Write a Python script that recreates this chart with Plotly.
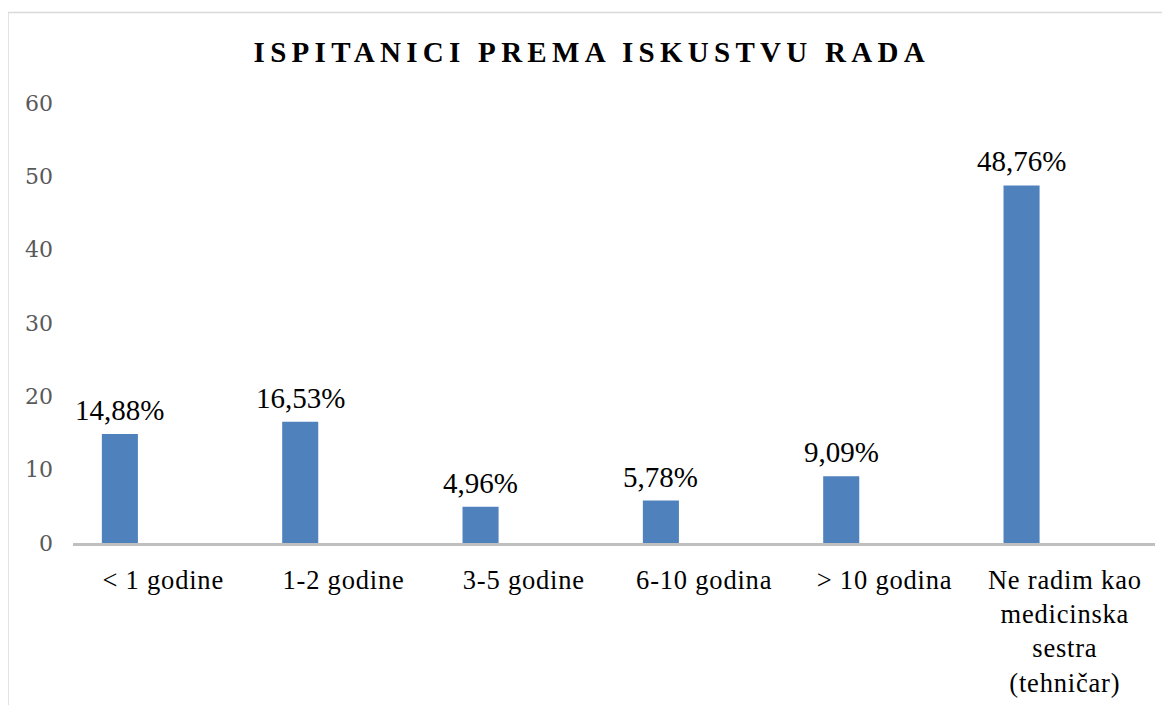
import plotly.graph_objects as go

categories = ["< 1 godine", "1-2 godine", "3-5 godine", "6-10 godina", "> 10 godina",
              "Ne radim kao<br>medicinska<br>sestra<br>(tehničar)"]
values = [14.88, 16.53, 4.96, 5.78, 9.09, 48.76]
labels = [f"{v:.2f}".replace(".", ",") + "%" for v in values]
y_ticks = [0, 10, 20, 30, 40, 50, 60]

BAR_WIDTH = 0.2
BAR_OFFSET = -0.34
CAT_PX = 1082 / 6

tick_text = ["<br>".join(f'<span style="letter-spacing:0.8px">{part}</span>'
                         for part in c.split("<br>")) for c in categories]

fig = go.Figure()
fig.add_trace(go.Bar(
    x=categories, y=values,
    marker=dict(color="#4F81BD", line=dict(width=0)),
    width=BAR_WIDTH, offset=BAR_OFFSET,
    hoverinfo="x+y",
))

for cat, val, lab in zip(categories, values, labels):
    fig.add_annotation(
        x=cat, y=val, text=lab, showarrow=False,
        xanchor="center", yanchor="bottom",
        xshift=(BAR_OFFSET + BAR_WIDTH / 2) * CAT_PX, yshift=6,
        font=dict(family="Liberation Serif", size=29, color="#000000"),
    )

fig.update_layout(
    width=1170, height=705,
    margin=dict(l=65, r=23, t=95, b=170),
    paper_bgcolor="white", plot_bgcolor="white",
    showlegend=False,
    title=dict(
        text='<b><span style="letter-spacing:5.3px">ISPITANICI PREMA ISKUSTVU RADA</span></b>',
        x=0.499, xref="container", xanchor="center",
        y=1 - 34 / 705, yref="container", yanchor="top",
        font=dict(family="Liberation Serif", size=29, color="#000000"),
    ),
    xaxis=dict(
        type="category", range=[-0.5, 5.5],
        tickvals=categories, ticktext=tick_text,
        showline=True, linecolor="#BFBFBF", linewidth=2.5,
        showgrid=False, ticks="", zeroline=False,
        tickfont=dict(family="Liberation Serif", size=26.5, color="#000000"),
        ticklabelstandoff=11,
    ),
    yaxis=dict(
        range=[0, 60], tickvals=y_ticks,
        showline=False, showgrid=False, zeroline=False, ticks="",
        tickfont=dict(family="DejaVu Serif", size=22, color="#595959"),
        ticklabelstandoff=19,
    ),
    shapes=[dict(type="rect", xref="paper", yref="paper",
                 x0=-0.0601, x1=1.03, y0=-0.6, y1=1.2057,
                 line=dict(color="#D9D9D9", width=1.5), fillcolor="rgba(0,0,0,0)",
                 layer="below")],
)

fig.write_html("out.html")
